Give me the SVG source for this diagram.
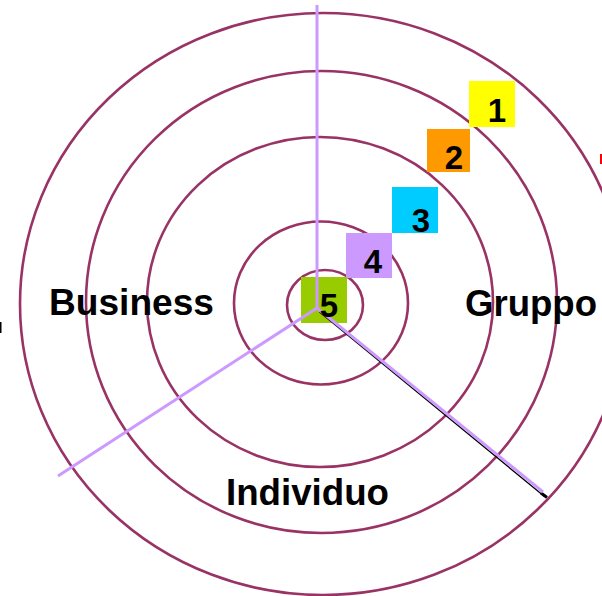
<svg xmlns="http://www.w3.org/2000/svg" width="602" height="596" viewBox="0 0 602 596">
  <style>
    .ring { fill: none; stroke: #993366; stroke-width: 2.6; }
    .axis { stroke: #CC99FF; stroke-width: 3; fill: none; }
    .lbl { font-family: "Liberation Sans", Arial, sans-serif; font-weight: bold; font-size: 36px; fill: #000; }
    .num { font-family: "Liberation Sans", Arial, sans-serif; font-weight: bold; font-size: 33px; fill: #000; text-anchor: middle; }
  </style>
  <rect x="0" y="0" width="602" height="596" fill="#FFFFFF"/>

  <g id="rings">
    <ellipse class="ring" cx="323" cy="304" rx="303" ry="291"/>
    <ellipse class="ring" cx="321.5" cy="302" rx="235.5" ry="231"/>
    <ellipse class="ring" cx="320" cy="302" rx="173" ry="165"/>
    <ellipse class="ring" cx="321" cy="303" rx="87" ry="81.5"/>
    <ellipse class="ring" cx="325" cy="305" rx="38" ry="35"/>
  </g>

  <g id="level1"><rect x="469" y="81" width="46" height="46" fill="#FFFF00"/></g>
  <g id="level2"><rect x="427" y="129" width="43" height="43" fill="#FF9900"/></g>
  <g id="level3"><rect x="392" y="187" width="46" height="46" fill="#00CCFF"/></g>
  <g id="level4"><rect x="346" y="233" width="46" height="45" fill="#CC99FF"/></g>
  <g id="level5"><rect x="301" y="277" width="46" height="46" fill="#99CC00"/></g>

  <g id="connectors">
    <line x1="319.5" y1="312" x2="544.5" y2="496.5" stroke="#000000" stroke-width="1.3"/>
    <line x1="541" y1="493" x2="547" y2="497.5" stroke="#000000" stroke-width="3"/>
    <line class="axis" x1="317" y1="5" x2="317" y2="308"/>
    <line class="axis" x1="317" y1="308" x2="58" y2="476"/>
    <line class="axis" x1="317" y1="308" x2="543" y2="492"/>
  </g>

  <g id="numbers">
    <text class="num" x="497" y="122">1</text>
    <text class="num" x="454" y="169">2</text>
    <text class="num" x="421" y="232">3</text>
    <text class="num" x="373" y="273">4</text>
    <text class="num" x="329" y="317">5</text>
  </g>

  <g id="label-business"><text class="lbl" x="49" y="315" textLength="165" lengthAdjust="spacingAndGlyphs">Business</text></g>
  <g id="label-gruppo"><text class="lbl" x="465" y="316" textLength="132" lengthAdjust="spacingAndGlyphs">Gruppo</text></g>
  <g id="label-individuo"><text class="lbl" x="226" y="505" textLength="163" lengthAdjust="spacingAndGlyphs">Individuo</text></g>

  <rect x="0" y="322" width="1.5" height="11" fill="#000000"/>
  <rect x="600" y="154" width="2" height="10" fill="#FF0000"/>
</svg>
